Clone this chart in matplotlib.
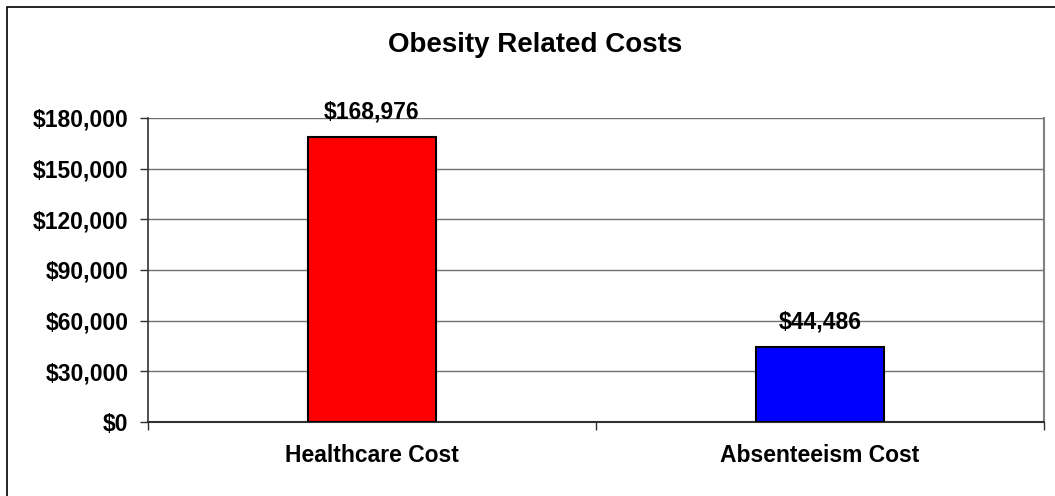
import matplotlib
matplotlib.use("Agg")
import matplotlib.pyplot as plt
from matplotlib.patches import Rectangle
from matplotlib.ticker import FuncFormatter, FixedLocator

categories = ["Healthcare Cost", "Absenteeism Cost"]
values = [168976, 44486]
bar_colors = ["#FF0000", "#0000FF"]
y_ticks = [0, 30000, 60000, 90000, 120000, 150000, 180000]
title = "Obesity Related Costs"

plt.rcParams['font.family'] = ['Liberation Sans', 'DejaVu Sans']
plt.rcParams['font.weight'] = 'bold'

W, H = 1055, 496
FS = 16.5
fig = plt.figure(figsize=(W / 100, H / 100), dpi=100)
fig.patch.set_facecolor("white")

# outer chart frame (extends past right/bottom edges)
fig.add_artist(Rectangle((7 / W, -0.1), 1.2, (H - 7) / H + 0.1, transform=fig.transFigure,
                         fill=False, edgecolor="black", linewidth=1.2))

left, right, top, bottom = 148, 1044, 118, 422
ax = fig.add_axes([left / W, (H - bottom) / H, (right - left) / W, (bottom - top) / H])

x = list(range(len(categories)))
ax.bar(x, values, width=0.286, color=bar_colors, edgecolor="black", linewidth=1.5, zorder=3)

ax.set_xlim(-0.5, len(categories) - 0.5)
ax.set_ylim(0, 180000)
ax.set_yticks(y_ticks)
ax.yaxis.set_major_formatter(FuncFormatter(lambda v, p: "${:,.0f}".format(v)))
ax.yaxis.grid(True, color="#707070", linewidth=1.0, zorder=0)
ax.set_axisbelow(True)

ax.set_xticks(x)
ax.set_xticklabels(categories)
ax.xaxis.set_minor_locator(FixedLocator([i - 0.5 for i in range(len(categories) + 1)]))
ax.tick_params(axis="x", which="major", length=0, pad=16, labelsize=FS)
ax.tick_params(axis="x", which="minor", length=6, width=1.0, color="#303030", direction="out")
ax.tick_params(axis="y", which="major", length=6, width=1.0, color="#303030", pad=8, labelsize=FS)

for lab in ax.get_xticklabels() + ax.get_yticklabels():
    lab.set_fontweight("bold")

ax.spines["top"].set_visible(False)
ax.spines["right"].set_color("#808080")
ax.spines["right"].set_linewidth(1.5)
ax.spines["left"].set_color("#303030")
ax.spines["left"].set_linewidth(1.2)
ax.spines["bottom"].set_color("#303030")
ax.spines["bottom"].set_linewidth(1.5)

for xi, v in zip(x, values):
    ax.annotate("${:,.0f}".format(v), (xi, v), xytext=(0, 13), textcoords="offset points",
                ha="center", va="baseline", fontsize=FS, fontweight="bold", clip_on=False)

fig.text(535 / W, 1 - 52 / H, title, ha="center", va="baseline", fontsize=20, fontweight="bold")

fig.savefig("out.png", dpi=100, facecolor="white")
